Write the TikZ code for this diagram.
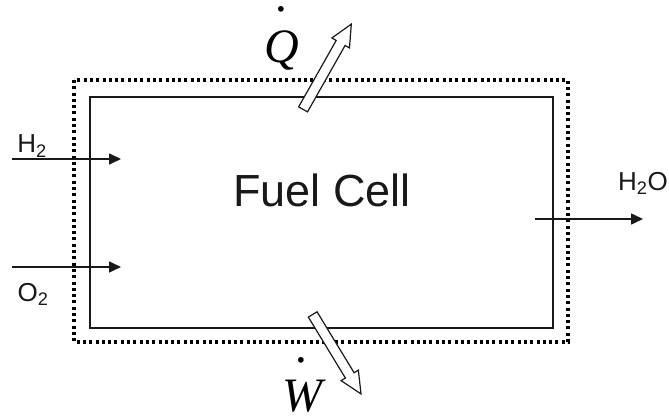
\documentclass[tikz,border=0pt]{standalone}
\usepackage{fontspec}
\setmainfont{Liberation Sans}
\newfontfamily\ratefont{Liberation Serif}
\usetikzlibrary{arrows.meta,shapes.arrows}
\tikzset{
  boundary/.style={draw=black, line width=3.2pt, dash pattern=on 3pt off 3.3pt},
  cellbox/.style={draw=black!90, line width=1.6pt, inner sep=0pt},
  flow/.style={-{Triangle[length=12pt,width=11pt]}, line width=1.6pt, draw=black!90},
  hollow/.style={single arrow, draw=black!90, fill=white, line width=1.2pt, inner sep=4.5pt,
    single arrow head extend=5pt, single arrow tip angle=50, minimum height=#1},
  spec/.style={font=\fontsize{26}{28}\selectfont, inner sep=0pt, text=black!90},
  rate/.style={font=\fontsize{48}{48}\ratefont\itshape, align=center, inner sep=0pt, anchor=south},
}
\begin{document}
\begin{tikzpicture}[x=1pt,y=-1pt]
  \useasboundingbox (0,0) rectangle (669,419);
  % control volume and cell
  \draw[boundary] (74,80) rectangle (568,342);
  \node[cellbox, minimum width=463pt, minimum height=231pt] (cell) at (321.5,212.5) {};
  \node[font=\fontsize{45}{48}\selectfont, text=black!90] (name) at (322,190) {Fuel Cell};

  % species in and out
  \coordinate (h2in) at (12,159);
  \coordinate (h2end) at (121,159);
  \coordinate (o2in) at (12,267);
  \coordinate (o2end) at (121,267);
  \coordinate (wout) at (535,219);
  \coordinate (wend) at (643,219);
  \foreach \a/\b in {h2in/h2end, o2in/o2end, wout/wend}{\draw[flow] (\a)--(\b);}
  \node[spec] (h2) at (32,146) {H\textsubscript{2}};
  \node[spec] (o2) at (33,294) {O\textsubscript{2}};
  \node[spec] (h2o) at (643,183) {H\textsubscript{2}O};

  % heat and work
  \node[hollow=98pt, rotate=60.5] (heat) at (324.5,71.5) {};
  \node[hollow=93pt, rotate=-58.7] (work) at (334,349.5) {};
  \node[rate] (qlab) at (282,70) {.\\[3pt]Q};
  \node[rate] (wlab) at (302,412) {.\\[1pt]W};
\end{tikzpicture}
\end{document}
